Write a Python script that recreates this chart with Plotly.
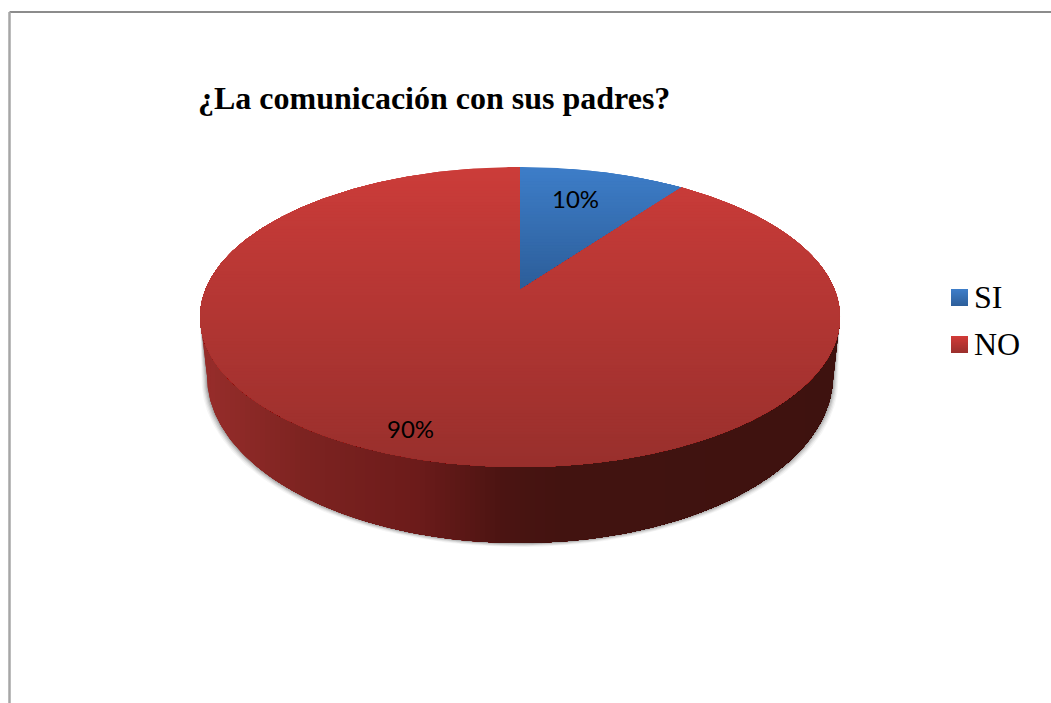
import numpy as np
import plotly.graph_objects as go

# --- data ---
categories = ["SI", "NO"]
values = [10, 90]
labels = ["10%", "90%"]
title_text = "¿La comunicación con sus padres?"

# --- styling / layout constants (pixels) ---
W, H = 1051, 703
APEX_X, APEX_Y = 520, 290
TOP_BACK, TOP_FRONT = 123, 177      # apex to far / near rim of the pie
RX = 320                            # half width of the rim
BOTTOM_SCALE, BOTTOM_DY = 0.978, 76 # lower rim of the pie wall
SIDE_CENTRE_Y = 376
FACE_STOPS = {
    "SI": [(167, (61, 125, 200)), (290, (44, 93, 152))],
    "NO": [(167, (203, 60, 57)), (467, (152, 47, 44))],
}
SWATCH_STOPS = {
    "SI": [(0, (61, 125, 200)), (1, (44, 93, 152))],
    "NO": [(0, (208, 58, 55)), (1, (152, 47, 44))],
}
SIDE_STOPS = [(205, (150, 45, 42)), (300, (125, 35, 33)), (415, (108, 27, 26)),
              (500, (75, 20, 18)), (560, (66, 19, 16)), (840, (62, 18, 15))]

# perspective mapping of a flat circular pie
k = (TOP_FRONT - TOP_BACK) / (TOP_FRONT + TOP_BACK)
B = TOP_BACK * (1 + k)
A = RX * np.sqrt(1 - k * k)


def project(frac):
    a = 2 * np.pi * np.asarray(frac)
    X, Y = np.sin(a), np.cos(a)
    d = 1 + k * Y
    return APEX_X + A * X / d, APEX_Y - B * Y / d


def clip_from(poly, v, axis):
    """Keep the part of a polygon with coordinate >= v on the given axis."""
    out = []
    n = len(poly)
    for i in range(n):
        p, q = poly[i], poly[(i + 1) % n]
        pin, qin = p[axis] >= v, q[axis] >= v
        if pin:
            out.append(p)
        if pin != qin:
            t = (v - p[axis]) / (q[axis] - p[axis])
            out.append((p[0] + t * (q[0] - p[0]), p[1] + t * (q[1] - p[1])))
    return out


def colour(stops, v):
    xs = [s[0] for s in stops]
    c = [np.interp(v, xs, [s[1][j] for s in stops]) for j in range(3)]
    return "rgb(%d,%d,%d)" % tuple(round(x) for x in c)


def add_poly(fig, poly, col):
    if len(poly) < 3:
        return
    xs = [p[0] for p in poly] + [poly[0][0]]
    ys = [p[1] for p in poly] + [poly[0][1]]
    fig.add_trace(go.Scatter(x=xs, y=ys, mode="lines", fill="toself", fillcolor=col,
                             line=dict(width=0), hoverinfo="skip", showlegend=False))


def add_gradient(fig, poly, stops, axis, start, end, steps):
    # painted from one end to the other, each layer covering the rest: no seams
    for v in np.linspace(start, end, steps, endpoint=False):
        add_poly(fig, clip_from(poly, v, axis), colour(stops, v))


fig = go.Figure()

# wall of the pie (front half of the rim and the lower rim)
centre_y = (APEX_Y - TOP_BACK + APEX_Y + TOP_FRONT) / 2
half_h = (TOP_BACK + TOP_FRONT) / 2
ang = np.linspace(0, np.pi, 241)
top_edge = [(APEX_X + RX * np.cos(a), centre_y + half_h * np.sin(a)) for a in ang]
low_edge = [(APEX_X + RX * BOTTOM_SCALE * np.cos(a),
             SIDE_CENTRE_Y + (centre_y + half_h + BOTTOM_DY - SIDE_CENTRE_Y) * np.sin(a)) for a in ang]
wall = top_edge + low_edge[::-1]

# soft shadow under the wall
for off, alpha in [(5.0, 0.05), (4.0, 0.07), (3.0, 0.10), (2.0, 0.14), (1.0, 0.18)]:
    sh = [(APEX_X + (x - APEX_X) * (1 + off * 1.1 / 320), y + off * 0.8) for x, y in low_edge]
    sh_poly = top_edge + sh[::-1]
    add_poly(fig, sh_poly, "rgba(60,60,60,%g)" % alpha)

add_gradient(fig, wall, SIDE_STOPS, 0, 195, 845, 130)

# top face, one sector per value
shares = np.cumsum([0] + values) / sum(values)
for i, cat in enumerate(categories):
    f = np.linspace(shares[i], shares[i + 1], max(8, int(720 * values[i] / 100)))
    xs, ys = project(f)
    poly = [(APEX_X, APEX_Y)] + list(zip(xs, ys))
    lo, hi = FACE_STOPS[cat][0][0], FACE_STOPS[cat][-1][0]
    add_gradient(fig, poly, FACE_STOPS[cat], 1, lo - 1, hi + 1, int((hi - lo) / 3))

# legend swatches
LEG_X, LEG_Y, LEG_STEP, SW = 951, 289, 47, 17
annotations = []
for i, cat in enumerate(categories):
    y0 = LEG_Y + i * LEG_STEP
    sq = [(LEG_X, y0), (LEG_X + SW, y0), (LEG_X + SW, y0 + SW), (LEG_X, y0 + SW)]
    stops = [(y0 + s * SW, c) for s, c in SWATCH_STOPS[cat]]
    add_gradient(fig, sq, stops, 1, y0, y0 + SW, 17)
    annotations.append(dict(x=LEG_X + SW + 4, y=y0 + SW / 2 - 1, text=cat, xanchor="left", yanchor="middle",
                            showarrow=False, font=dict(family="Liberation Serif", size=32, color="black")))

# data labels
LABEL_POS = [(575, 198), (410, 428)]
for (x, y), s in zip(LABEL_POS, labels):
    annotations.append(dict(x=x, y=y, text=s, xanchor="center", yanchor="middle", showarrow=False,
                            font=dict(family="Lato", size=24, color="black")))

# title
annotations.append(dict(x=196, y=98, text="<b>%s</b>" % title_text, xanchor="left", yanchor="middle",
                        showarrow=False, font=dict(family="Liberation Serif", size=32, color="black")))

for a in annotations:
    a["xref"] = "x"
    a["yref"] = "y"

shapes = [
    dict(type="line", xref="x", yref="y", x0=9.5, y0=12, x1=W, y1=12, line=dict(color="#8c8c8c", width=2)),
    dict(type="line", xref="x", yref="y", x0=9.5, y0=12, x1=9.5, y1=H, line=dict(color="#a6a6a6", width=2.5)),
]

fig.update_layout(
    width=W, height=H, margin=dict(l=0, r=0, t=0, b=0),
    paper_bgcolor="white", plot_bgcolor="white", showlegend=False,
    xaxis=dict(range=[0, W], visible=False, fixedrange=True),
    yaxis=dict(range=[H, 0], visible=False, fixedrange=True),
    annotations=annotations, shapes=shapes,
)

fig.write_html("out.html", config={"displayModeBar": False},
               post_script="document.body.style.margin='0';document.body.style.overflow='hidden';")
